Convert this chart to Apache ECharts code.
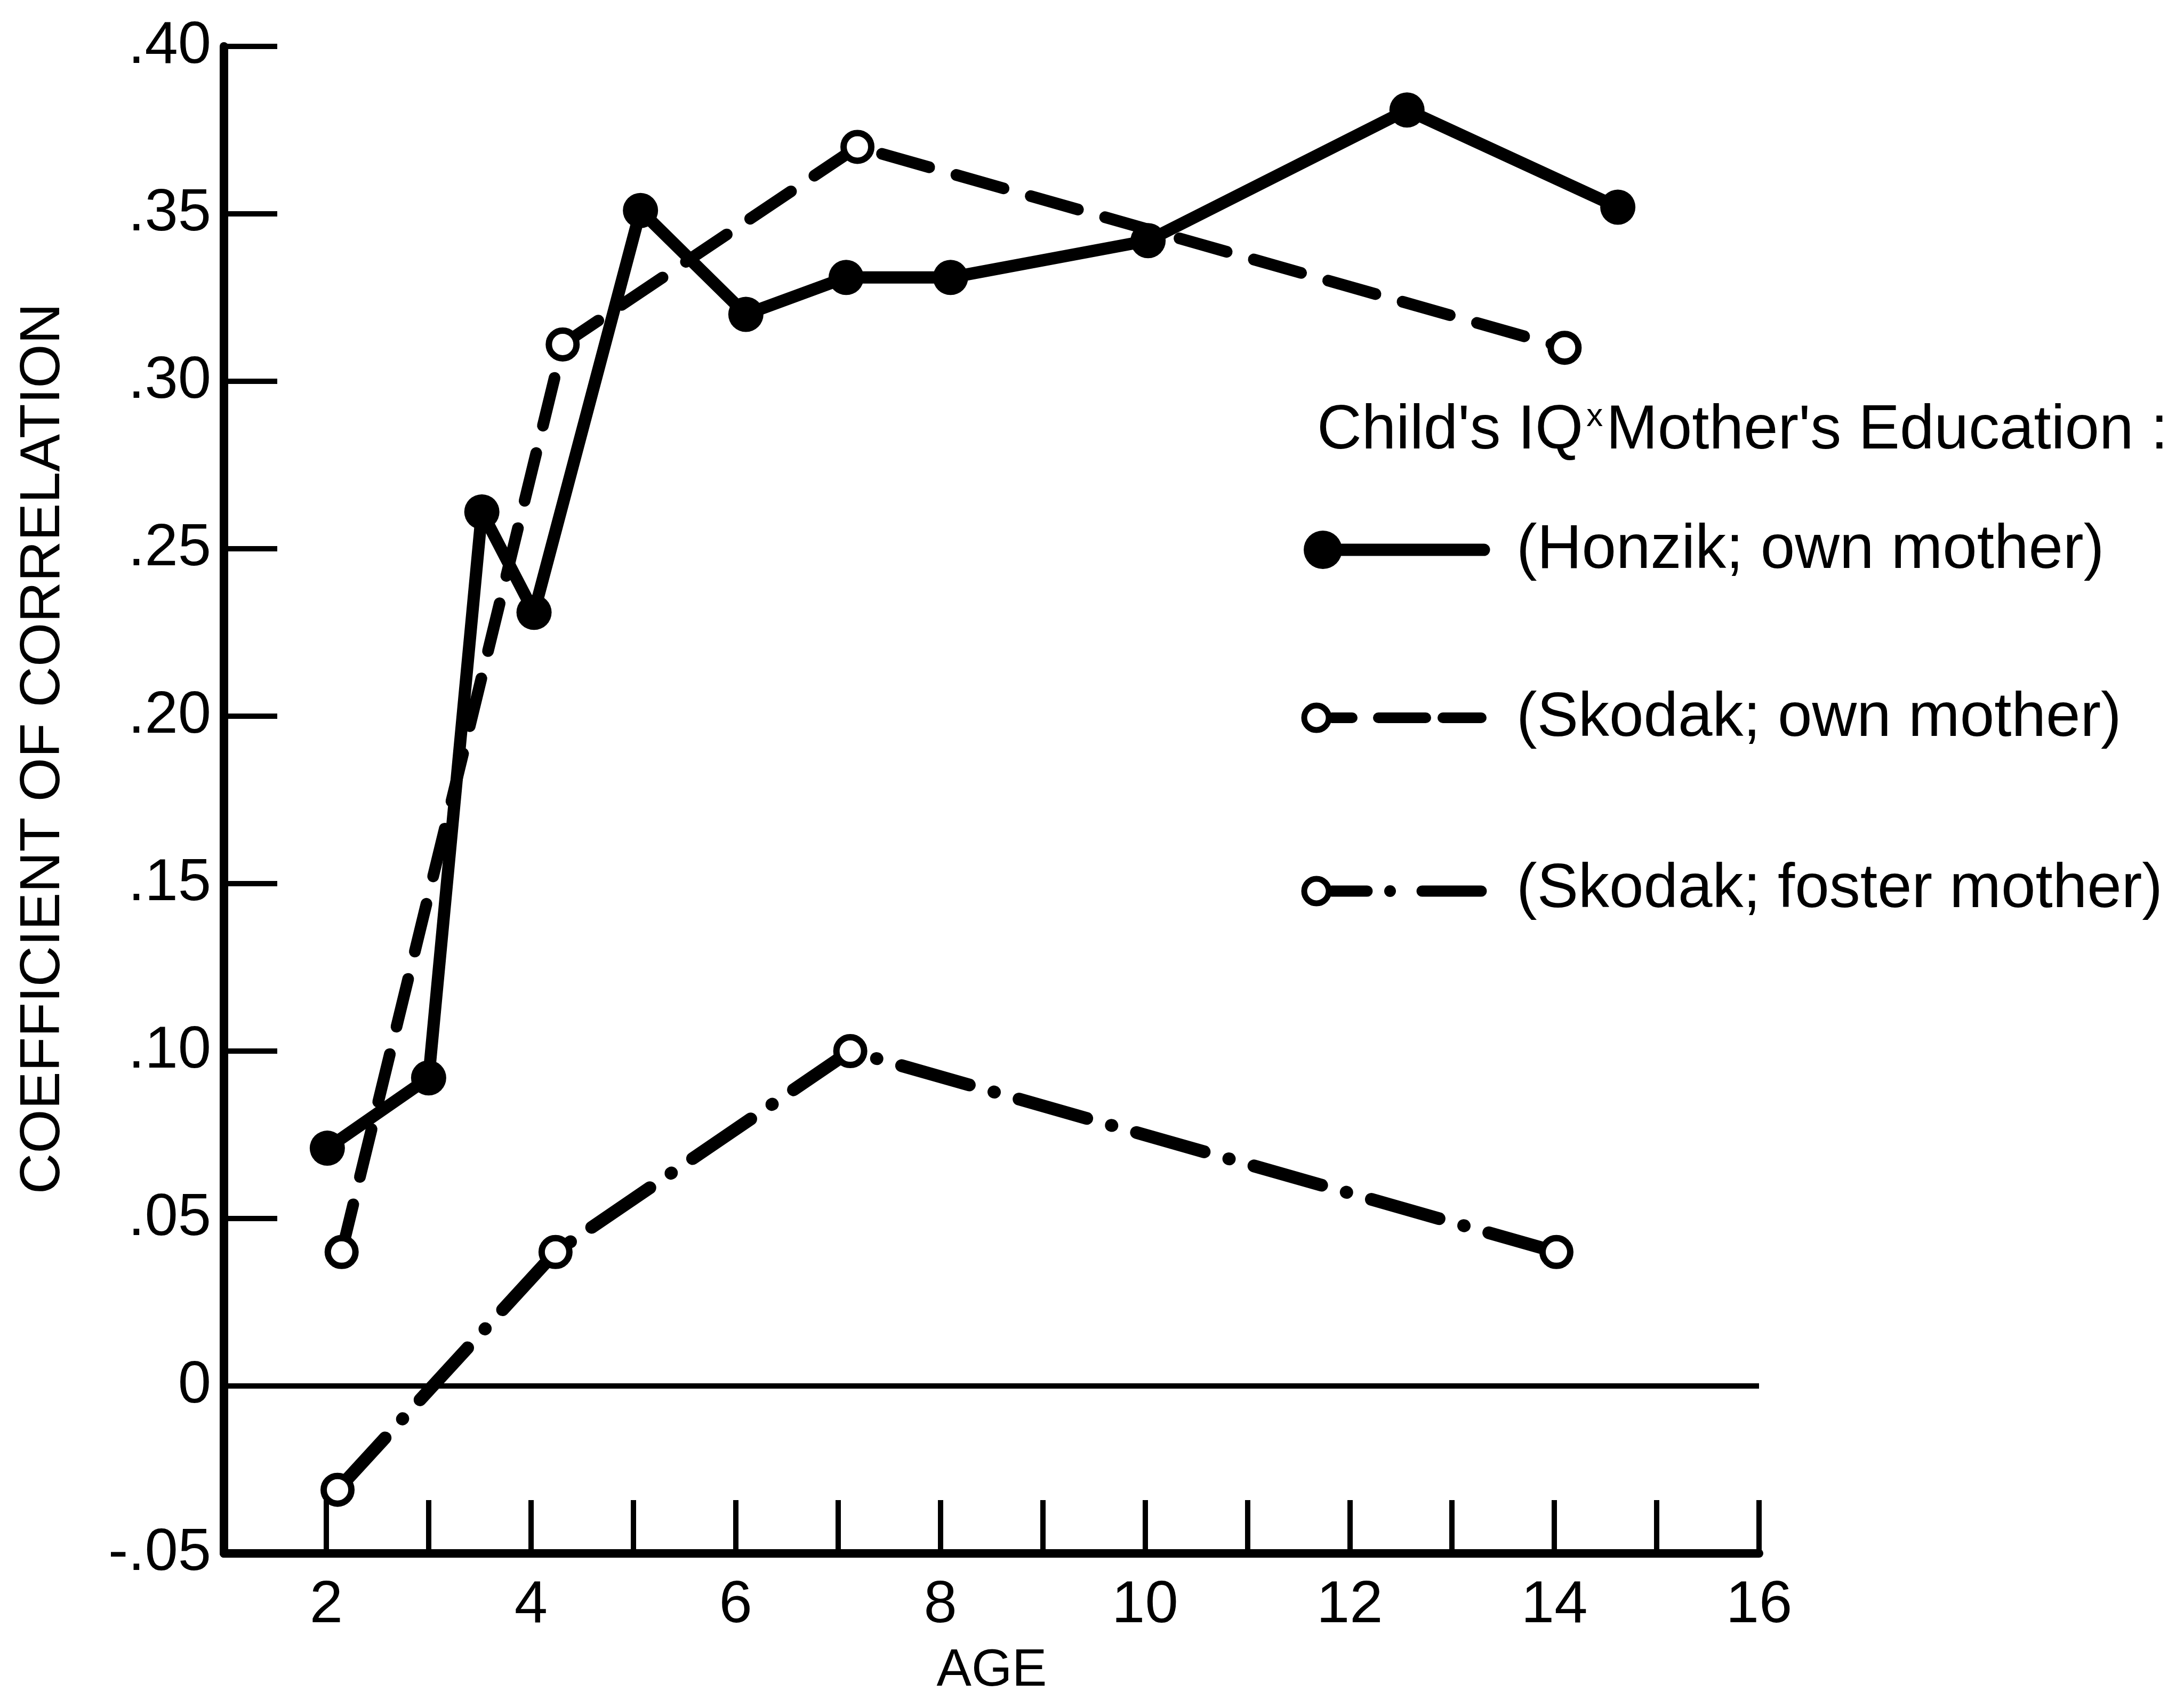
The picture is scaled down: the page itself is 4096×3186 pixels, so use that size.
<!DOCTYPE html>
<html>
<head>
<meta charset="utf-8">
<script src="https://cdn.jsdelivr.net/npm/echarts@6/dist/echarts.min.js"></script>
<style>
html,body{margin:0;padding:0;background:#fff;}
#chart{width:4096px;height:3186px;}
</style>
</head>
<body>
<div id="chart"></div>
<script>
// ---- data ----
const honzikAges = [2.01, 3.0, 3.52, 4.03, 5.07, 6.1, 7.08, 8.1, 10.03, 12.56, 14.62];
const honzikR    = [0.071, 0.092, 0.261, 0.231, 0.351, 0.320, 0.331, 0.331, 0.342, 0.381, 0.352];
const skodakOwnAges = [2.15, 4.31, 7.19, 14.1];
const skodakOwnR    = [0.040, 0.311, 0.370, 0.310];
const skodakFosterAges = [2.11, 4.24, 7.12, 14.02];
const skodakFosterR    = [-0.031, 0.040, 0.100, 0.040];
const yTickValues = [-0.05, 0, 0.05, 0.10, 0.15, 0.20, 0.25, 0.30, 0.35, 0.40];
const yTickLabels = ['-.05', '0', '.05', '.10', '.15', '.20', '.25', '.30', '.35', '.40'];
const xTickValues = [2, 4, 6, 8, 10, 12, 14, 16];
const xTickLabels = ['2', '4', '6', '8', '10', '12', '14', '16'];
const seriesNames = ['(Honzik; own mother)', '(Skodak; own mother)', '(Skodak; foster mother)'];
const legendTitle = "Child's IQ";
const legendTitle2 = "Mother's Education :";
const yTitle = 'COEFFICIENT OF CORRELATION';
const xTitle = 'AGE';

function pairs(xs, ys) { return xs.map((x, i) => [x, ys[i]]); }

const FONT = 'Liberation Sans';
const chart = echarts.init(document.getElementById('chart'), null, {renderer: 'canvas'});

const openSymbol = {color: '#fff', borderColor: '#000', borderWidth: 12};

const option = {
  backgroundColor: '#fff',
  animation: false,
  textStyle: {fontFamily: FONT, color: '#000'},
  grid: {left: 420, top: 87, width: 2879, height: 2826, containLabel: false, outerBoundsMode: 'none'},
  xAxis: {
    type: 'value', min: 1, max: 16, interval: 1,
    axisLine: {show: true, onZero: false, lineStyle: {color: '#000', width: 16}},
    axisTick: {show: true, inside: true, length: 100, lineStyle: {color: '#000', width: 10}},
    splitLine: {show: false},
    axisLabel: {
      show: true, margin: 42, fontSize: 112, fontFamily: FONT, color: '#000',
      formatter: v => { const i = xTickValues.indexOf(Math.round(v)); return i >= 0 ? xTickLabels[i] : ''; }
    }
  },
  yAxis: {
    type: 'value', min: -0.05, max: 0.40, interval: 0.05,
    axisLine: {show: true, onZero: false, lineStyle: {color: '#000', width: 16}},
    axisTick: {show: true, inside: true, length: 100, lineStyle: {color: '#000', width: 10}},
    splitLine: {show: false},
    axisLabel: {
      show: true, margin: 24, fontSize: 112, fontFamily: FONT, color: '#000',
      formatter: v => {
        let best = 0, d = 1e9;
        yTickValues.forEach((t, i) => { if (Math.abs(t - v) < d) { d = Math.abs(t - v); best = i; } });
        return yTickLabels[best];
      }
    }
  },
  series: [
    {
      name: seriesNames[0], type: 'line', data: pairs(honzikAges, honzikR),
      symbol: 'circle', symbolSize: 66, z: 5,
      itemStyle: {color: '#000'},
      lineStyle: {color: '#000', width: 23, cap: 'round', join: 'round'},
      markLine: {
        silent: true, symbol: ['none', 'none'], label: {show: false},
        lineStyle: {color: '#000', width: 10, type: 'solid'},
        data: [{yAxis: 0}]
      }
    },
    {
      name: seriesNames[1], type: 'line', data: pairs(skodakOwnAges, skodakOwnR),
      symbol: 'circle', symbolSize: 52, z: 4,
      itemStyle: openSymbol,
      lineStyle: {color: '#000', width: 22, type: [92, 53], cap: 'round'}
    },
    {
      name: seriesNames[2], type: 'line', data: pairs(skodakFosterAges, skodakFosterR),
      symbol: 'circle', symbolSize: 52, z: 4,
      itemStyle: openSymbol,
      lineStyle: {color: '#000', width: 24, type: [132, 48, 1, 48], cap: 'round'}
    }
  ],
  graphic: [
    // axis titles
    {type: 'text', x: 82, y: 1404, rotation: Math.PI / 2,
     style: {text: yTitle, fontFamily: FONT, fontSize: 106, fill: '#000', align: 'center', verticalAlign: 'middle'}},
    {type: 'text', x: 1860, y: 3134,
     style: {text: xTitle, fontFamily: FONT, fontSize: 98, fill: '#000', align: 'center', verticalAlign: 'middle'}},
    // legend title
    {type: 'text', x: 2470, y: 809,
     style: {
       text: '{a|' + legendTitle + '}{s|x}{a|' + legendTitle2 + '}',
       verticalAlign: 'middle', align: 'left',
       rich: {
         a: {fontFamily: FONT, fontSize: 116, fill: '#000', color: '#000'},
         s: {fontFamily: FONT, fontSize: 62, fill: '#000', color: '#000', verticalAlign: 'top', padding: [0, 6, 0, 6]}
       }
     }},
    // legend row 1
    {type: 'line', shape: {x1: 2481, y1: 1031, x2: 2783, y2: 1031}, style: {stroke: '#000', lineWidth: 23, lineCap: 'round'}},
    {type: 'circle', shape: {cx: 2481, cy: 1031, r: 36}, style: {fill: '#000'}},
    {type: 'text', x: 2844, y: 1033, style: {text: seriesNames[0], fontFamily: FONT, fontSize: 116, fill: '#000', verticalAlign: 'middle'}},
    // legend row 2
    {type: 'line', shape: {x1: 2498, y1: 1346, x2: 2536, y2: 1346}, style: {stroke: '#000', lineWidth: 20, lineCap: 'round'}},
    {type: 'line', shape: {x1: 2585, y1: 1346, x2: 2674, y2: 1346}, style: {stroke: '#000', lineWidth: 20, lineCap: 'round'}},
    {type: 'line', shape: {x1: 2706, y1: 1346, x2: 2778, y2: 1346}, style: {stroke: '#000', lineWidth: 20, lineCap: 'round'}},
    {type: 'circle', shape: {cx: 2469, cy: 1346, r: 23}, style: {fill: '#fff', stroke: '#000', lineWidth: 11}},
    {type: 'text', x: 2844, y: 1348, style: {text: seriesNames[1], fontFamily: FONT, fontSize: 116, fill: '#000', verticalAlign: 'middle'}},
    // legend row 3
    {type: 'line', shape: {x1: 2498, y1: 1671, x2: 2564, y2: 1671}, style: {stroke: '#000', lineWidth: 21, lineCap: 'round'}},
    {type: 'circle', shape: {cx: 2607, cy: 1671, r: 11}, style: {fill: '#000'}},
    {type: 'line', shape: {x1: 2667, y1: 1671, x2: 2778, y2: 1671}, style: {stroke: '#000', lineWidth: 21, lineCap: 'round'}},
    {type: 'circle', shape: {cx: 2469, cy: 1671, r: 23}, style: {fill: '#fff', stroke: '#000', lineWidth: 11}},
    {type: 'text', x: 2844, y: 1669, style: {text: seriesNames[2], fontFamily: FONT, fontSize: 116, fill: '#000', verticalAlign: 'middle'}}
  ]
};
chart.setOption(option);
</script>
</body>
</html>
